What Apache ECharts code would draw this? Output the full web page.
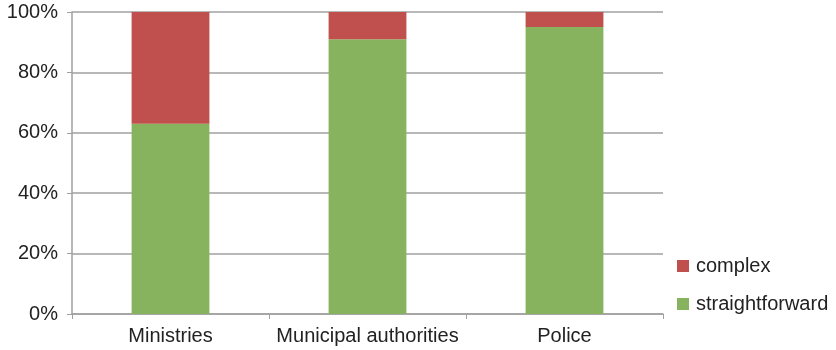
<!DOCTYPE html>
<html>
<head>
<meta charset="utf-8">
<script src="https://cdn.jsdelivr.net/npm/echarts@6/dist/echarts.min.js"></script>
<style>
  html, body { margin: 0; padding: 0; background: #fff; }
  #chart { width: 836px; height: 350px; }
</style>
</head>
<body>
<div id="chart"></div>
<script>
// Share of cases per organisation type (percent)
const categories = ['Ministries', 'Municipal authorities', 'Police'];
const straightforward = [63, 91, 95];
const complex = [37, 9, 5];
const yTicks = [0, 20, 40, 60, 80, 100];

const FONT = 'Liberation Sans';
const chart = echarts.init(document.getElementById('chart'));
chart.setOption({
  animation: false,
  textStyle: { fontFamily: FONT },
  grid: { left: 72, right: 173, top: 12, bottom: 36, containLabel: false },
  legend: {
    orient: 'vertical',
    left: 677,
    top: 256,
    padding: 0,
    itemWidth: 12,
    itemHeight: 12,
    itemGap: 18,
    icon: 'rect',
    data: ['complex', 'straightforward'],
    textStyle: { fontSize: 20, lineHeight: 20, color: '#222', fontFamily: FONT, padding: [0, 0, 0, 2] }
  },
  xAxis: {
    type: 'category',
    data: categories,
    axisLine: { lineStyle: { color: '#a0a0a0', width: 1.5 } },
    axisTick: { show: true, interval: 0, alignWithLabel: false, length: 5, lineStyle: { color: '#a0a0a0' } },
    axisLabel: { interval: 0, hideOverlap: false, fontSize: 20, color: '#222', margin: 12 }
  },
  yAxis: {
    type: 'value',
    min: 0,
    max: 100,
    interval: 20,
    axisLine: { show: true, lineStyle: { color: '#a0a0a0', width: 1.5 } },
    axisTick: { show: true, length: 5, lineStyle: { color: '#a0a0a0' } },
    splitLine: { lineStyle: { color: '#a0a0a0', width: 1.5 } },
    axisLabel: {
      fontSize: 20, color: '#222', margin: 14,
      formatter: v => (yTicks.includes(v) ? v + '%' : '')
    }
  },
  series: [
    {
      name: 'straightforward',
      type: 'bar',
      stack: 'total',
      barWidth: '39.5%',
      itemStyle: { color: '#88b35e' },
      data: straightforward
    },
    {
      name: 'complex',
      type: 'bar',
      stack: 'total',
      barWidth: '39.5%',
      itemStyle: { color: '#c0504d' },
      data: complex
    }
  ]
});
</script>
</body>
</html>
